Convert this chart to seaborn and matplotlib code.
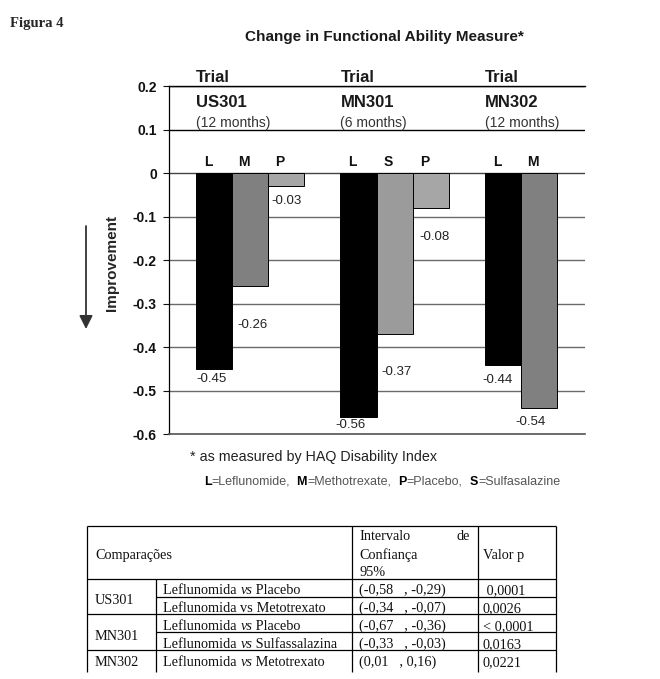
import matplotlib
matplotlib.use("Agg")
import numpy as np
import pandas as pd
import matplotlib.pyplot as plt
import seaborn as sns

# data
trials = ["US301", "MN301", "MN302"]
durations = ["(12 months)", "(6 months)", "(12 months)"]
bar_slots = ["US301 L", "US301 M", "US301 P", "MN301 L", "MN301 S", "MN301 P", "MN302 L", "MN302 M"]
bar_letters = ["L", "M", "P", "L", "S", "P", "L", "M"]
bar_values = [-0.45, -0.26, -0.03, -0.56, -0.37, -0.08, -0.44, -0.54]
slot_order = ["US301 L", "US301 M", "US301 P", "gap 1",
              "MN301 L", "MN301 S", "MN301 P", "gap 2",
              "MN302 L", "MN302 M"]
y_ticks = [0.2, 0.1, 0, -0.1, -0.2, -0.3, -0.4, -0.5, -0.6]
y_tick_labels = ["0.2", "0.1", "0", "-0.1", "-0.2", "-0.3", "-0.4", "-0.5", "-0.6"]

legend_parts = [("L", True), ("=Leflunomide,", False), ("  M", True), ("=Methotrexate,", False),
                ("  P", True), ("=Placebo,", False), ("  S", True), ("=Sulfasalazine", False)]

table_groups = ["US301", "MN301", "MN302"]
table_comparisons = ["Leflunomida vs Placebo",
                     "Leflunomida vs Metotrexato",
                     "Leflunomida vs Placebo",
                     "Leflunomida vs Sulfassalazina",
                     "Leflunomida vs Metotrexato"]
table_vs_italic = [True, False, True, True, True]
table_ci = ["(-0,58   , -0,29)", "(-0,34   , -0,07)", "(-0,67   , -0,36)",
            "(-0,33   , -0,03)", "(0,01   , 0,16)"]
table_p = [" 0,0001", "0,0026", "< 0,0001", "0,0163", "0,0221"]

# styling
drug_colors = {"L": "#000000", "M": "#808080", "P": "#a6a6a6", "S": "#9b9b9b"}
label_dx = [-0.08, 0.05, 0.0, -0.22, 0.06, 0.1, -0.14, -0.24]
label_dy = [-0.024, -0.089, -0.034, -0.018, -0.086, -0.067, -0.035, -0.031]

sns.set_style("white")
plt.rcParams["font.family"] = ["Liberation Sans", "DejaVu Sans"]
plt.rcParams["axes.unicode_minus"] = False

W, H = 660, 679
fig = plt.figure(figsize=(W / 100, H / 100), dpi=100)
ax = fig.add_axes([169.3 / W, 1 - 434.3 / H, (585 - 169.3) / W, (434.3 - 86.3) / H])

df = pd.DataFrame({"slot": bar_slots, "drug": bar_letters, "value": bar_values})
sns.barplot(data=df, x="slot", y="value", hue="drug", order=slot_order,
            palette=drug_colors, dodge=False, width=1.0, edgecolor="black",
            linewidth=0.7, legend=False, ax=ax, zorder=3)

ax.set_xlim(-1.24, 10.27)
ax.set_ylim(-0.6, 0.2)
ax.set_yticks(y_ticks)
ax.set_yticklabels(y_tick_labels, fontsize=10, fontweight="bold")
ax.set_xticks([])
ax.set_xlabel("")
ax.set_ylabel("Improvement", fontsize=11, fontweight="bold")
ax.yaxis.set_label_coords(-0.121, 0.492)
ax.tick_params(axis="y", direction="out", length=4, width=0.8, pad=5, colors="#111111", left=True)

ax.set_axisbelow(True)
ax.yaxis.grid(True, color="#6a6a6a", linewidth=1.0)
for gl, t in zip(ax.get_ygridlines(), y_ticks):
    if t > 0:
        gl.set_color("black")
    if t == 0:
        gl.set_color("#444444")
ax.spines["right"].set_visible(False)
ax.spines["top"].set_color("black")
ax.spines["top"].set_linewidth(1.0)
ax.spines["left"].set_color("black")
ax.spines["left"].set_linewidth(0.9)
ax.spines["bottom"].set_color("#555555")
ax.spines["bottom"].set_linewidth(1.2)

# bar letters and value labels
for i, slot in enumerate(bar_slots):
    x = slot_order.index(slot)
    ax.text(x - 0.17, 0.0168, bar_letters[i], ha="center", va="baseline",
            fontsize=10, fontweight="bold", color="#111111")
    ax.text(x + label_dx[i], bar_values[i] + label_dy[i], f"{bar_values[i]:.2f}",
            ha="center", va="center", fontsize=9.5, color="#222222", zorder=4)

# trial headers
for k, trial in enumerate(trials):
    x0 = slot_order.index(trial + " L") - 0.5
    ax.text(x0, 0.2108, "Trial", ha="left", va="baseline", fontsize=12,
            fontweight="bold", color="#1a1a1a")
    ax.text(x0, 0.1533, trial, ha="left", va="baseline", fontsize=12,
            fontweight="bold", color="#1a1a1a")
    ax.text(x0, 0.1073, durations[k], ha="left", va="baseline", fontsize=10,
            color="#333333")

# titles and notes
fig.text(10 / W, 1 - 23 / H, "Figura 4", family="Liberation Serif", fontweight="bold",
         fontsize=10.5, va="center", ha="left")
fig.text(384.5 / W, 1 - 37 / H, "Change in Functional Ability Measure*", fontsize=11,
         fontweight="bold", ha="center", va="center", color="#1a1a1a")
fig.text(190 / W, 1 - 457.3 / H, "* as measured by HAQ Disability Index", fontsize=10.3,
         ha="left", va="center", color="#222222")

prev = fig.text(204 / W, 1 - 481.7 / H, legend_parts[0][0], fontsize=9,
                fontweight="bold", ha="left", va="center", color="black")
for txt, bold in legend_parts[1:]:
    prev = ax.annotate(txt, xy=(1, 0), xycoords=prev, ha="left", va="bottom", fontsize=9,
                       fontweight="bold" if bold else "normal",
                       color="black" if bold else "#555555", annotation_clip=False)

ax.annotate("", xy=(86 / W, 1 - 329 / H), xytext=(86 / W, 1 - 226 / H),
            xycoords="figure fraction", textcoords="figure fraction",
            arrowprops=dict(arrowstyle="-|>", color="#333333", lw=1.3,
                            mutation_scale=20, shrinkA=0, shrinkB=0))

# table underneath, in pixel coordinates
tax = fig.add_axes([0, 0, 1, 1])
tax.set_xlim(0, W)
tax.set_ylim(H, 0)
tax.axis("off")

cols = [87.3, 156.0, 351.7, 477.7, 555.7]
top, head_bot = 525.7, 579.3
row_lines = [596.7, 614.0, 632.0, 650.0]
bottom = 672
lc = dict(color="black", linewidth=0.9)
tax.hlines([top, head_bot, row_lines[1], row_lines[3]], cols[0], cols[-1], **lc)
tax.hlines([row_lines[0], row_lines[2]], cols[1], cols[-1], **lc)
tax.vlines([cols[0], cols[2], cols[3], cols[4]], top, bottom, **lc)
tax.vlines(cols[1], head_bot, bottom, **lc)

serif = dict(family="Liberation Serif", fontsize=10.3, va="baseline", color="#111111")
base = 4.5
tax.text(95, 554.3 + base, "Comparações", ha="left", **serif)
tax.text(359.3, 535 + base, "Intervalo", ha="left", **serif)
tax.text(470, 535 + base, "de", ha="right", **serif)
tax.text(359.3, 554.3 + base, "Confiança", ha="left", **serif)
tax.text(359.3, 571.7 + base, "95%", ha="left", **serif)
tax.text(483.3, 554.3 + base, "Valor p", ha="left", **serif)

row_y = [589.3, 607.7, 625.7, 643.3, 661.7]
group_y = [599.0, 635.0, 661.7]
for g, gy in zip(table_groups, group_y):
    tax.text(95, gy + base, g, ha="left", **serif)
for r in range(len(row_y)):
    yb = row_y[r] + base
    left, right = table_comparisons[r].split(" vs ")
    t = tax.text(163.3, yb, left + " ", ha="left", **serif)
    t = tax.annotate("vs", xy=(1, yb), xycoords=(t, "data"), ha="left",
                     style="italic" if table_vs_italic[r] else "normal", **serif)
    tax.annotate(" " + right, xy=(1, yb), xycoords=(t, "data"), ha="left", **serif)
    tax.text(359.3, yb, table_ci[r], ha="left", **serif)
    tax.text(482.7, yb, table_p[r], ha="left", **serif)

fig.savefig("out.png", dpi=100, facecolor="white")
